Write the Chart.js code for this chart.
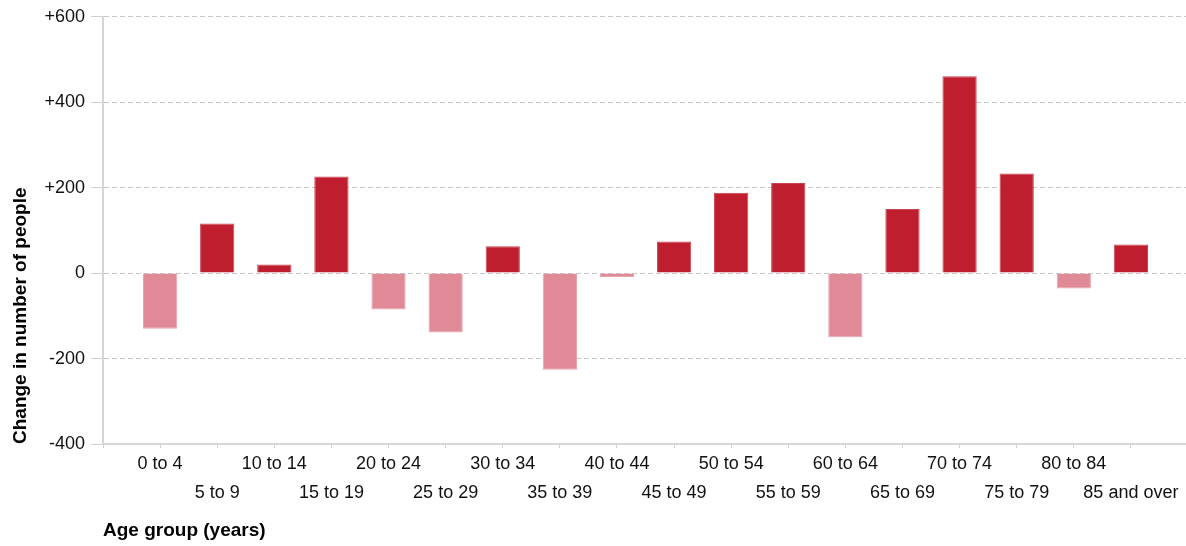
<!DOCTYPE html>
<html>
<head>
<meta charset="utf-8">
<script src="https://cdn.jsdelivr.net/npm/chart.js@4/dist/chart.umd.min.js"></script>
<style>
  html, body { margin: 0; padding: 0; background: #ffffff; overflow: hidden; }
  #wrap { position: relative; width: 1190px; height: 546px; }
</style>
</head>
<body>
<div id="wrap"><canvas id="c"></canvas></div>
<script>
const categories = ['0 to 4', '5 to 9', '10 to 14', '15 to 19', '20 to 24', '25 to 29',
  '30 to 34', '35 to 39', '40 to 44', '45 to 49', '50 to 54', '55 to 59',
  '60 to 64', '65 to 69', '70 to 74', '75 to 79', '80 to 84', '85 and over'];
const changeValues = [-130, 116, 20, 226, -85, -139, 63, -226, -9, 74, 188, 211, -150, 150, 461, 233, -36, 67];
const yTickValues = [-400, -200, 0, 200, 400, 600];
const yTickLabels = ['-400', '-200', '0', '+200', '+400', '+600'];

const POS_COLOR = '#BE1E2D';
const NEG_COLOR = '#E08A98';
const POS_EDGE = '#C94452';
const NEG_EDGE = '#E8A3AE';

// pad with an empty slot on each side so the category axis starts one slot before the first bar
const axisLabels = [''].concat(categories, ['']);
const axisData = [null].concat(changeValues, [null]);

Chart.defaults.font.family = '"Liberation Sans", Arial, sans-serif';
Chart.defaults.color = '#111111';

new Chart(document.getElementById('c'), {
  type: 'bar',
  data: {
    labels: axisLabels,
    datasets: [{
      data: axisData,
      backgroundColor: (ctx) => (ctx.raw !== null && ctx.raw < 0) ? NEG_COLOR : POS_COLOR,
      borderColor: (ctx) => (ctx.raw !== null && ctx.raw < 0) ? NEG_EDGE : POS_EDGE,
      borderWidth: 1,
      barPercentage: 0.6,
      categoryPercentage: 1.0
    }]
  },
  options: {
    responsive: true,
    maintainAspectRatio: false,
    animation: false,
    layout: { padding: { top: 15, right: 0, bottom: 0, left: 0 } },
    plugins: { legend: { display: false }, tooltip: { enabled: false } },
    scales: {
      x: {
        offset: false,
        grid: { offset: false, drawOnChartArea: false, tickLength: 4, color: '#d0d0d0', lineWidth: 1 },
        border: { display: true, color: '#d6d6d6', width: 2 },
        ticks: {
          autoSkip: false, maxRotation: 0, minRotation: 0, padding: 2,
          color: '#111111',
          font: { size: 18, lineHeight: 1.61 },
          callback: function (value, index) {
            if (index === 0 || index === axisLabels.length - 1) return '';
            const k = index - 1;
            const lbl = categories[k];
            return (k % 2 === 0) ? lbl : ['', lbl];
          }
        },
        title: {
          display: true, text: 'Age group (years)', align: 'start', color: '#000000',
          font: { size: 19, weight: 'bold' }, padding: { top: 0, bottom: 4 }
        },
        afterFit: (s) => { s.height = 102; }
      },
      y: {
        min: -400, max: 600,
        afterBuildTicks: (s) => { s.ticks = yTickValues.map(v => ({ value: v })); },
        grid: { color: '#c8c8c8', lineWidth: 1, tickLength: 12, tickColor: '#d0d0d0' },
        border: { display: true, color: '#d6d6d6', width: 2, dash: [5, 3] },
        ticks: {
          padding: 6, color: '#111111', font: { size: 18 },
          callback: (v) => yTickLabels[yTickValues.indexOf(v)]
        },
        title: {
          display: true, text: 'Change in number of people', align: 'start', color: '#000000',
          font: { size: 19, weight: 'bold' }, padding: { top: 9, bottom: 0 }
        },
        afterFit: (s) => { s.width = 103; }
      }
    }
  }
});
</script>
</body>
</html>
